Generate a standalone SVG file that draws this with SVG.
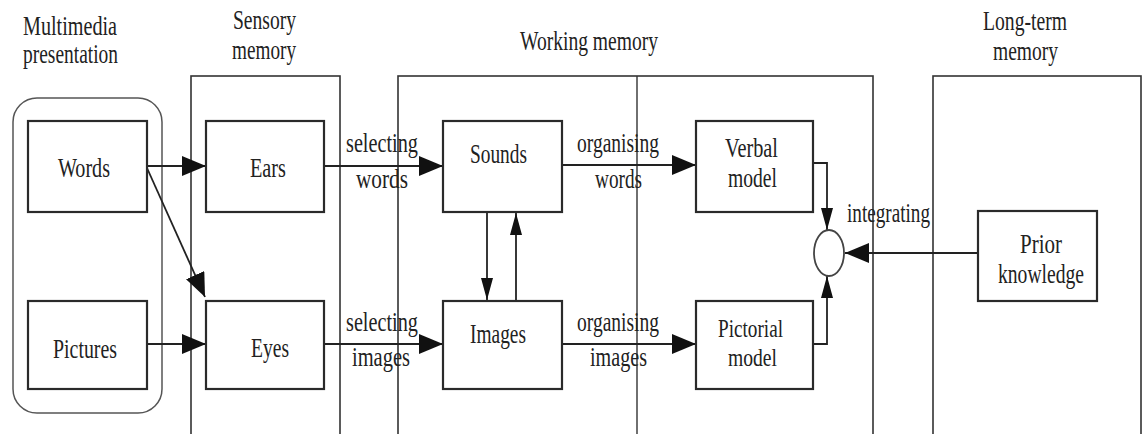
<svg xmlns="http://www.w3.org/2000/svg" width="1143" height="434" viewBox="0 0 1143 434">
<defs>
<style>
.t{font-family:"Liberation Serif","DejaVu Serif",serif;font-size:27px;fill:#222;}
.s{font-size:25px;}
.box{fill:#fff;stroke:#2a2a2a;stroke-width:2.2;}
.cont{fill:none;stroke:#333;stroke-width:1.6;}
.ln{fill:none;stroke:#222;stroke-width:1.8;}
</style>
<marker id="ah" viewBox="0 0 24 20" refX="24" refY="10" markerWidth="24" markerHeight="20" markerUnits="userSpaceOnUse" orient="auto"><path d="M0,0 L24,10 L0,20 z" fill="#111"/></marker>
<marker id="av" viewBox="0 0 22 12" refX="22" refY="6" markerWidth="22" markerHeight="12" markerUnits="userSpaceOnUse" orient="auto"><path d="M0,0 L22,6 L0,12 z" fill="#111"/></marker>
</defs>
<rect width="1143" height="434" fill="#fff"/>

<g id="containers">
<rect id="multimedia" x="13" y="98" width="149" height="315" rx="24" fill="none" stroke="#555" stroke-width="1.5"/>
<rect id="sensory" x="191" y="76" width="149" height="362" class="cont"/>
<rect id="working" x="398" y="76" width="475" height="362" class="cont"/>
<line x1="637" y1="76" x2="637" y2="438" stroke="#333" stroke-width="1.4"/>
<rect id="longterm" x="933" y="76" width="208" height="362" class="cont"/>
</g>

<g id="titles">
<text class="t" x="23" y="35" textLength="94" lengthAdjust="spacingAndGlyphs">Multimedia</text>
<text class="t" x="23" y="63" textLength="95" lengthAdjust="spacingAndGlyphs">presentation</text>
<text class="t" x="233" y="29" textLength="63" lengthAdjust="spacingAndGlyphs">Sensory</text>
<text class="t" x="232" y="59" textLength="64" lengthAdjust="spacingAndGlyphs">memory</text>
<text class="t" x="520" y="50" textLength="138" lengthAdjust="spacingAndGlyphs">Working memory</text>
<text class="t" x="983" y="30" textLength="84" lengthAdjust="spacingAndGlyphs">Long-term</text>
<text class="t" x="993" y="60" textLength="65" lengthAdjust="spacingAndGlyphs">memory</text>
</g>

<g id="connectors">
<line class="ln" x1="147" y1="166" x2="206" y2="166" marker-end="url(#ah)"/>
<line class="ln" x1="147" y1="168" x2="205" y2="297" marker-end="url(#ah)"/>
<line class="ln" x1="147" y1="344" x2="206" y2="344" marker-end="url(#ah)"/>
<line class="ln" x1="324" y1="166" x2="443" y2="166" marker-end="url(#ah)"/>
<line class="ln" x1="324" y1="344" x2="443" y2="344" marker-end="url(#ah)"/>
<line class="ln" x1="562" y1="165" x2="696" y2="165" marker-end="url(#ah)"/>
<line class="ln" x1="562" y1="344" x2="696" y2="344" marker-end="url(#ah)"/>
<line class="ln" x1="487" y1="212" x2="487" y2="300" marker-end="url(#av)"/>
<line class="ln" x1="516" y1="301" x2="516" y2="213" marker-end="url(#av)"/>
<polyline class="ln" points="813,163 827,163 827,230" marker-end="url(#av)"/>
<polyline class="ln" points="813,344 827,344 827,276" marker-end="url(#av)"/>
<line class="ln" x1="978" y1="253" x2="845" y2="253" marker-end="url(#ah)"/>
</g>

<g id="connector-labels">
<text class="t" x="346" y="152" textLength="72" lengthAdjust="spacingAndGlyphs">selecting</text>
<text class="t" x="356" y="188" textLength="52" lengthAdjust="spacingAndGlyphs">words</text>
<text class="t" x="346" y="331" textLength="72" lengthAdjust="spacingAndGlyphs">selecting</text>
<text class="t" x="352" y="366" textLength="58" lengthAdjust="spacingAndGlyphs">images</text>
<text class="t" x="577" y="152" textLength="82" lengthAdjust="spacingAndGlyphs">organising</text>
<text class="t" x="595" y="188" textLength="47" lengthAdjust="spacingAndGlyphs">words</text>
<text class="t" x="577" y="331" textLength="82" lengthAdjust="spacingAndGlyphs">organising</text>
<text class="t" x="590" y="366" textLength="57" lengthAdjust="spacingAndGlyphs">images</text>
<text class="t" x="847" y="222" textLength="83" lengthAdjust="spacingAndGlyphs">integrating</text>
</g>

<g id="words"><rect class="box" x="28" y="121" width="119" height="91"/><text class="t" x="58" y="177" textLength="52" lengthAdjust="spacingAndGlyphs">Words</text></g>
<g id="pictures"><rect class="box" x="28" y="301" width="119" height="88"/><text class="t" x="53" y="358" textLength="64" lengthAdjust="spacingAndGlyphs">Pictures</text></g>
<g id="ears"><rect class="box" x="206" y="121" width="118" height="91"/><text class="t" x="250" y="177" textLength="36" lengthAdjust="spacingAndGlyphs">Ears</text></g>
<g id="eyes"><rect class="box" x="206" y="301" width="118" height="88"/><text class="t" x="251" y="357" textLength="38" lengthAdjust="spacingAndGlyphs">Eyes</text></g>
<g id="sounds"><rect class="box" x="443" y="121" width="119" height="91"/><text class="t" x="470" y="163" textLength="57" lengthAdjust="spacingAndGlyphs">Sounds</text></g>
<g id="images"><rect class="box" x="443" y="301" width="119" height="88"/><text class="t" x="470" y="343" textLength="56" lengthAdjust="spacingAndGlyphs">Images</text></g>
<g id="verbal"><rect class="box" x="696" y="121" width="117" height="91"/><text class="t" x="725" y="157" textLength="53" lengthAdjust="spacingAndGlyphs">Verbal</text><text class="t" x="728" y="187" textLength="49" lengthAdjust="spacingAndGlyphs">model</text></g>
<g id="pictorial"><rect class="box" x="696" y="301" width="117" height="88"/><text class="t s" x="718" y="337" textLength="65" lengthAdjust="spacingAndGlyphs">Pictorial</text><text class="t s" x="728" y="366" textLength="49" lengthAdjust="spacingAndGlyphs">model</text></g>
<g id="integration"><ellipse cx="829" cy="253" rx="15" ry="23" fill="#fff" stroke="#444" stroke-width="1.8"/></g>
<g id="prior"><rect class="box" x="978" y="211" width="119" height="90"/><text class="t" x="1020" y="253" textLength="42" lengthAdjust="spacingAndGlyphs">Prior</text><text class="t" x="998" y="283" textLength="86" lengthAdjust="spacingAndGlyphs">knowledge</text></g>
</svg>
